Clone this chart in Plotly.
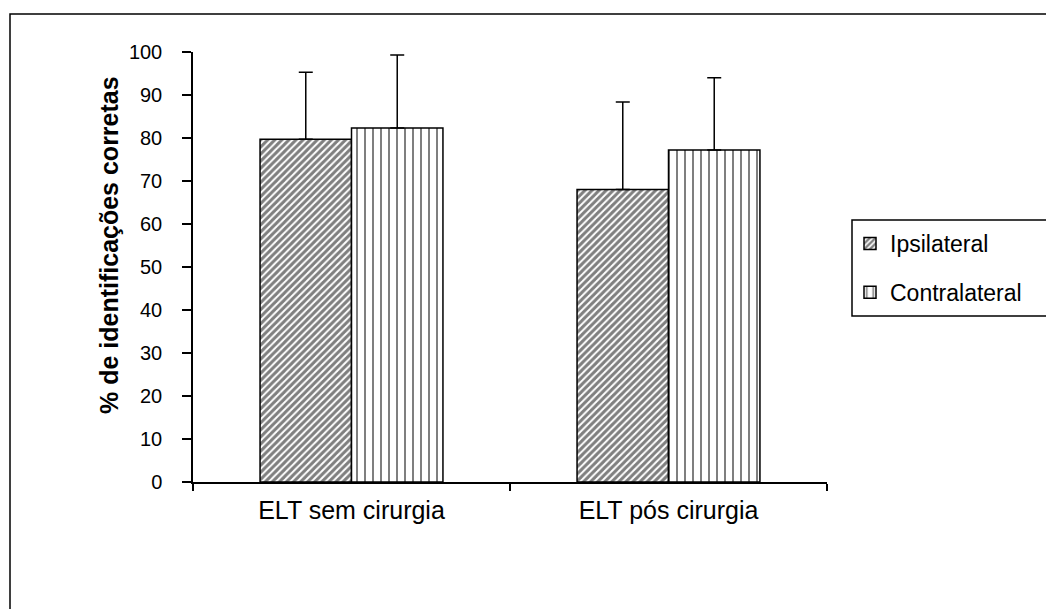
import plotly.graph_objects as go

# Data
categories = ["ELT sem cirurgia", "ELT pós cirurgia"]
ipsilateral = [79.7, 68.0]
ipsilateral_sd = [15.6, 20.4]
contralateral = [82.3, 77.2]
contralateral_sd = [17.0, 16.8]
y_ticks = [0, 10, 20, 30, 40, 50, 60, 70, 80, 90, 100]
y_title = "% de identificações corretas"

FONT = "Liberation Sans, Arial, sans-serif"

fig = go.Figure()

fig.add_trace(go.Bar(
    name="Ipsilateral",
    legendgroup="ipsi",
    x=categories,
    y=ipsilateral,
    marker=dict(
        color="white",
        line=dict(color="black", width=1.5),
        pattern=dict(shape="/", fgcolor="black", bgcolor="white",
                     size=5, solidity=0.6, fillmode="overlay"),
    ),
    error_y=dict(type="data", symmetric=False, array=ipsilateral_sd,
                 arrayminus=[0, 0], color="black", thickness=1.5, width=7),
))

fig.add_trace(go.Bar(
    name="Contralateral",
    legendgroup="contra",
    x=categories,
    y=contralateral,
    marker=dict(
        color="white",
        line=dict(color="black", width=1.5),
        pattern=dict(shape="|", fgcolor="black", bgcolor="white",
                     size=8, solidity=0.25, fillmode="overlay"),
    ),
    error_y=dict(type="data", symmetric=False, array=contralateral_sd,
                 arrayminus=[0, 0], color="black", thickness=1.5, width=7),
))

W, H = 1046, 609
L, R, T, B = 193, 219, 52, 127
pw, ph = W - L - R, H - T - B


def px_x(p):
    return (p - L) / pw


def px_y(p):
    return (H - B - p) / ph


shapes = [
    # outer chart frame
    dict(type="rect", xref="paper", yref="paper",
         x0=px_x(10), x1=px_x(1060), y0=px_y(620), y1=px_y(14),
         line=dict(color="black", width=1.5), fillcolor="rgba(0,0,0,0)", layer="below"),
    # legend box
    dict(type="rect", xref="paper", yref="paper",
         x0=px_x(852), x1=px_x(1047), y0=px_y(316), y1=px_y(220),
         line=dict(color="black", width=1.5), fillcolor="rgba(0,0,0,0)"),
]

annotations = [
    # y-axis title, placed by hand so it sits a little above the plot's middle
    dict(text="<b>" + y_title + "</b>", textangle=-90,
         xref="paper", yref="paper", x=px_x(109), y=px_y(245),
         xanchor="center", yanchor="middle", showarrow=False,
         font=dict(size=25, family=FONT, color="black")),
]

fig.update_layout(
    width=W, height=H,
    margin=dict(l=L, r=R, t=T, b=B, pad=0),
    paper_bgcolor="white",
    plot_bgcolor="white",
    barmode="group",
    bargap=0.423,
    bargroupgap=0,
    font=dict(family=FONT, color="black"),
    shapes=shapes,
    annotations=annotations,
    showlegend=True,
    legend=dict(
        x=px_x(850), xanchor="left",
        y=px_y(222), yanchor="top",
        bgcolor="rgba(0,0,0,0)",
        borderwidth=0,
        font=dict(size=23, family=FONT, color="black"),
        traceorder="grouped",
        tracegroupgap=16,
        itemwidth=30,
    ),
    xaxis=dict(
        type="category",
        showline=True, linecolor="black", linewidth=1.5,
        ticks="outside", tickson="boundaries", ticklen=7,
        tickcolor="black", tickwidth=1.5,
        tickfont=dict(size=25, family=FONT, color="black"),
        ticklabelstandoff=5,
        showgrid=False, zeroline=False,
    ),
    yaxis=dict(
        range=[0, 100],
        tickvals=y_ticks,
        showline=True, linecolor="black", linewidth=1.5,
        ticks="outside", ticklen=9, tickcolor="black", tickwidth=1.5,
        tickfont=dict(size=20, family=FONT, color="black"),
        ticklabelstandoff=16,
        showgrid=False, zeroline=False,
    ),
)

fig.write_html("out.html")
